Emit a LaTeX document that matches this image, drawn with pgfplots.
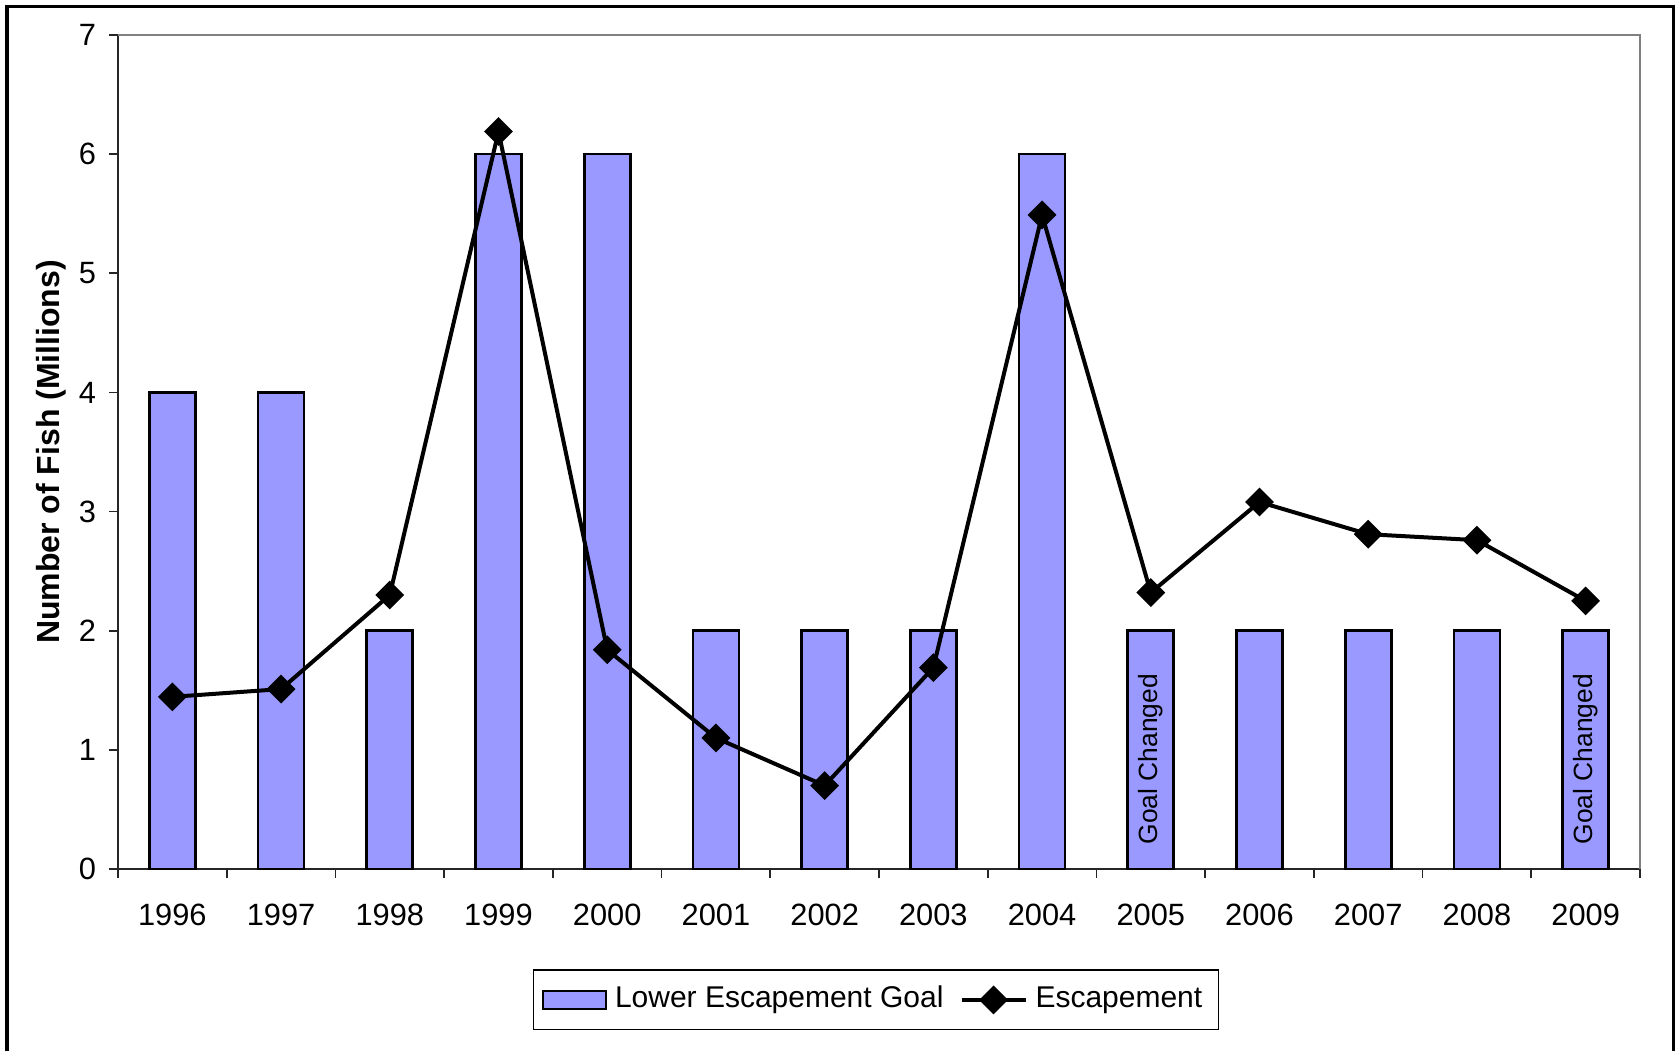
\documentclass[border=0pt]{standalone}
\usepackage{pgfplots}
\pgfplotsset{compat=1.18}
\usepackage{fontspec}
\setmainfont{Liberation Sans}
\definecolor{barblue}{HTML}{9999FF}
\definecolor{axgray}{HTML}{808080}
\pgfplotsset{
  barlegend/.style={legend image code/.code={\draw[fill=barblue, draw=black, line width=0.6pt] (0pt,-2.25pt) rectangle (15.75pt,2.25pt);}},
  linelegend/.style={legend image code/.code={\draw[mark repeat=2,mark phase=2,##1] plot coordinates {(0pt,0pt) (8pt,0pt) (16pt,0pt)};}},
}
\begin{document}
\begin{tikzpicture}
\useasboundingbox (0,0) rectangle (418.75pt,262.75pt);
\draw[line width=0.75pt] (1.75pt,0) -- (1.75pt,261pt) -- (418.25pt,261pt) -- (418.25pt,0);
\begin{axis}[
  at={(29.5pt,45.5pt)}, anchor=south west,
  scale only axis, width=380.5pt, height=208.5pt,
  xmin=-0.5, xmax=13.5, ymin=0, ymax=7,
  axis lines*=left,
  axis line style={line width=0.5pt, color=black!85},
  tick align=outside,
  major tick length=2.25pt,
  tick style={line width=0.4pt, color=black!85},
  xtick={-0.5,0.5,...,13.5},
  xticklabels=\empty,
  extra x ticks={0,1,2,3,4,5,6,7,8,9,10,11,12,13},
  extra x tick labels={1996,1997,1998,1999,2000,2001,2002,2003,2004,2005,2006,2007,2008,2009},
  extra x tick style={major tick length=0pt, xticklabel style={anchor=north, yshift=-5.3pt}},
  ytick={0,1,2,3,4,5,6,7},
  yticklabel style={xshift=0.3pt},
  /pgf/number format/assume math mode=true,
  tick label style={font=\fontsize{7.7}{9}\selectfont},
  ylabel={Number of Fish (Millions)},
  every axis y label/.style={at={(axis description cs:-0.044,0.5)}, rotate=90, anchor=center, font=\fontsize{8}{10}\selectfont\bfseries},
  legend style={at={(0.498,-0.157)}, anchor=center, legend columns=2, draw=black, line width=0.3pt,
    font=\fontsize{7.5}{9}\selectfont, inner sep=2pt,
    /tikz/every even column/.append style={column sep=2pt}},
  clip=false,
]
\addplot[ybar, bar width=11.5pt, bar shift=0pt, fill=barblue, draw=black, line width=0.65pt, barlegend]
  coordinates {(0,4) (1,4) (2,2) (3,6) (4,6) (5,2) (6,2) (7,2) (8,6) (9,2) (10,2) (11,2) (12,2) (13,2)};
\addlegendentry{Lower Escapement Goal}
\addplot[black, line width=1pt, mark=square*, mark size=2.05pt, mark options={rotate=45, solid, fill=black}, linelegend]
  coordinates {(0,1.445) (1,1.51) (2,2.30) (3,6.19) (4,1.84) (5,1.10) (6,0.70) (7,1.69) (8,5.49) (9,2.32) (10,3.08) (11,2.81) (12,2.76) (13,2.25)};
\addlegendentry{Escapement}
\draw[axgray, line width=0.6pt] (rel axis cs:0,1) -- (rel axis cs:1,1) -- (rel axis cs:1,0);
\node[rotate=90, anchor=west, inner sep=0pt, font=\fontsize{6.6}{8}\selectfont] at (axis cs:9,0.2) {Goal Changed};
\node[rotate=90, anchor=west, inner sep=0pt, font=\fontsize{6.6}{8}\selectfont] at (axis cs:13,0.2) {Goal Changed};
\end{axis}
\end{tikzpicture}
\end{document}
